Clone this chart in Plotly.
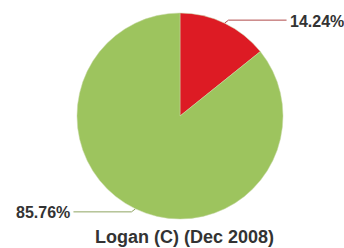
import math
import plotly.graph_objects as go

labels = ["Category A", "Category B"]
values = [14.24, 85.76]
slice_colors = ["#DD1B24", "#9DC45E"]
line_colors = ["#B04A4A", "#8FA462"]
title_text = "Logan (C) (Dec 2008)"

W, H = 344, 248
cx, cy, r = 180, 116, 103  # pie center and radius in pixels

fig = go.Figure()
fig.add_trace(go.Pie(
    labels=labels, values=values, sort=False, direction="clockwise", rotation=0,
    marker=dict(colors=slice_colors, line=dict(color="#C9D9A8", width=0.5)),
    textinfo="none", hoverinfo="label+percent", showlegend=False,
    domain=dict(x=[(cx - r) / W, (cx + r) / W], y=[(H - cy - r) / H, (H - cy + r) / H]),
))

total = sum(values)
cum = 0.0
for v, lc in zip(values, line_colors):
    mid = (cum + v / 2) / total * 2 * math.pi
    cum += v
    sx, sy = cx + r * math.sin(mid), cy - r * math.cos(mid)
    side = 1 if math.sin(mid) >= 0 else -1
    up = -1 if math.cos(mid) >= 0 else 1
    ex, ey = sx + side * 4, sy + up * 3
    hx = ex + side * 58
    fig.add_trace(go.Scatter(x=[sx, ex, hx], y=[sy, ey, ey], mode="lines",
                             line=dict(color=lc, width=1), hoverinfo="skip",
                             showlegend=False, xaxis="x", yaxis="y"))
    fig.add_annotation(x=hx + side * 1, y=ey + 1, xref="x", yref="y", text=f"<b>{v:.2f}%</b>",
                       showarrow=False, xanchor="left" if side > 0 else "right",
                       yanchor="middle",
                       font=dict(family="Liberation Sans", size=16, color="#333333"))

fig.add_annotation(x=184, y=237, xref="x", yref="y", text=f"<b>{title_text}</b>",
                   showarrow=False, xanchor="center", yanchor="middle",
                   font=dict(family="Liberation Sans", size=18, color="#333333"))

fig.update_layout(
    width=W, height=H, margin=dict(l=0, r=0, t=0, b=0),
    paper_bgcolor="white", plot_bgcolor="rgba(0,0,0,0)",
    xaxis=dict(range=[0, W], visible=False, fixedrange=True),
    yaxis=dict(range=[H, 0], visible=False, fixedrange=True),
)
fig.write_html("out.html", config={"displayModeBar": False},
               post_script="document.body.style.margin='0';")
